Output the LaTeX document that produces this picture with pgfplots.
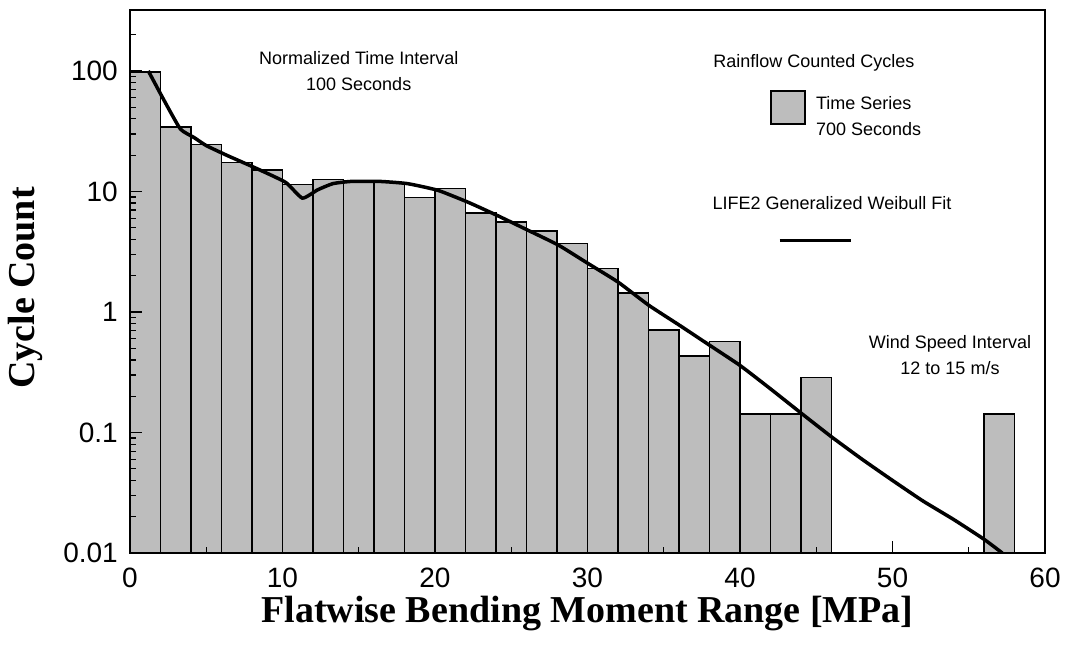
\documentclass[border=0pt]{standalone}
\usepackage{pgfplots}
\pgfplotsset{compat=1.18}
\usepackage{fontspec}
\setmainfont{Liberation Sans}
\newfontfamily\serifbf{Liberation Serif}
\newcommand\annfont{\fontsize{18}{26}\selectfont}
\begin{document}
\begin{tikzpicture}[x=1pt,y=1pt]
\useasboundingbox (-130,-94) rectangle (935,553);
\begin{axis}[
 at={(0,0)}, anchor=south west,
 scale only axis, width=915pt, height=543pt,
 xmin=0, xmax=60, ymode=log, ymin=0.01, ymax=320,
 log origin=infty, axis on top,
 axis line style={line width=2.5pt},
 xtick={0,10,20,30,40,50,60}, minor xtick={5,15,25,35,45,55},
 ytick={0.01,0.1,1,10,100}, yticklabels={0.01,0.1,1,10,100},
 minor ytick={0.02,0.03,0.04,0.05,0.06,0.07,0.08,0.09,0.2,0.3,0.4,0.5,0.6,0.7,0.8,0.9,2,3,4,5,6,7,8,9,20,30,40,50,60,70,80,90,200},
 tick align=inside, xtick pos=left, ytick pos=left,
 major tick length=12pt, minor tick length=6pt,
 every tick/.style={black, line width=1.2pt},
 ticklabel style={font=\fontsize{28}{28}\selectfont},
 /pgf/number format/assume math mode=true,
 xticklabel style={anchor=north, inner sep=0pt, yshift=-15pt},
 yticklabel style={anchor=east, inner sep=0pt, xshift=-12pt},
 xlabel={Flatwise Bending Moment Range [MPa]},
 ylabel={Cycle Count},
 xlabel style={font=\serifbf\bfseries\fontsize{38}{38}\selectfont, at={(axis description cs:0.5,0)}, anchor=base, yshift=-69pt, inner sep=0pt},
 ylabel style={font=\serifbf\bfseries\fontsize{38}{38}\selectfont, at={(axis description cs:0,0.488)}, anchor=base, yshift=95pt, inner sep=0pt},
]
\addplot[ybar, bar width=2, fill=black!26, draw=black, line width=1.5pt] coordinates {
(1,98) (3,34.3) (5,24.6) (7,17.3) (9,15.1) (11,11.4) (13,12.6) (15,12.3)
(17,11.9) (19,8.9) (21,10.6) (23,6.6) (25,5.6) (27,4.7) (29,3.7) (31,2.29)
(33,1.43) (35,0.71) (37,0.43) (39,0.57) (41,0.143) (43,0.143) (45,0.286) (57,0.143)
};
\addplot[black, line width=3.5pt, smooth, tension=0.3] coordinates {
(1.2,100) (2.2,58) (3.3,33) (4.2,28) (5.0,24) (6.4,19.8) (8.3,15.5) (10.2,11.9)
(11.3,8.8) (12.3,10.3) (13.3,11.6) (14.5,12.1) (16.4,12.1) (18.2,11.6) (20.2,10.2)
(22.2,8.1) (24.1,6.3) (26.1,4.76) (28.1,3.58) (30,2.54) (32,1.77) (34,1.14)
(36,0.78) (38,0.53) (40,0.36) (42,0.23) (44,0.145) (46,0.092) (48,0.06)
(50,0.04) (52,0.027) (54,0.019) (56,0.013) (57.2,0.01)
};
\node[align=center, font=\annfont] at (axis cs:15,100) {Normalized Time Interval\\100 Seconds};
\node[align=center, font=\annfont] at (axis cs:44.85,116) {Rainflow Counted Cycles};
\draw[fill=black!26, line width=2pt] (axis cs:42.03,36.5) rectangle (axis cs:44.26,68.4);
\node[align=left, anchor=west, inner sep=0pt, font=\annfont] at (axis cs:44.98,42.1) {Time Series\\700 Seconds};
\node[align=center, font=\annfont] at (axis cs:46.03,7.96) {LIFE2 Generalized Weibull Fit};
\draw[line width=3pt] (axis cs:42.6,3.94) -- (axis cs:47.3,3.94);
\node[align=center, font=\annfont] at (axis cs:53.77,0.437) {Wind Speed Interval\\12 to 15 m/s};
\end{axis}
\end{tikzpicture}
\end{document}
